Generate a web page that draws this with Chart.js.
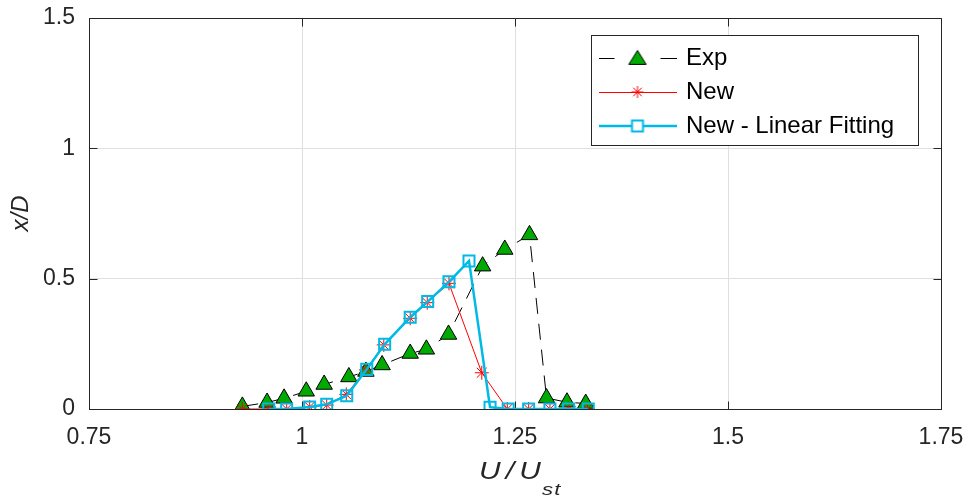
<!DOCTYPE html>
<html>
<head>
<meta charset="utf-8">
<script src="https://cdn.jsdelivr.net/npm/chart.js@4/dist/chart.umd.min.js"></script>
<style>
  html, body { margin: 0; padding: 0; background: #fff; }
  #wrap { width: 970px; height: 496px; }
</style>
</head>
<body>
<div id="wrap"><canvas id="c" width="970" height="496"></canvas></div>
<script>
// Separation length x/D versus reduced velocity U/U_st
const xExp = [0.930, 0.959, 0.979, 1.005, 1.026, 1.055, 1.075, 1.094, 1.127, 1.146, 1.172, 1.212, 1.238, 1.267, 1.287, 1.311, 1.333];
const yExp = [0.010, 0.025, 0.041, 0.068, 0.094, 0.123, 0.144, 0.169, 0.213, 0.229, 0.286, 0.548, 0.612, 0.668, 0.042, 0.026, 0.021];

const xNew = [0.930, 0.961, 0.982, 1.009, 1.029, 1.052, 1.075, 1.096, 1.127, 1.147, 1.1725, 1.211, 1.241, 1.266, 1.291, 1.313, 1.335];
const yNew = [0, 0, 0, 0.008, 0.015, 0.056, 0.150, 0.246, 0.348, 0.408, 0.482, 0.139, 0, 0, 0, 0, 0];

const xFit = [0.961, 0.982, 1.009, 1.029, 1.0525, 1.076, 1.097, 1.127, 1.1475, 1.1725, 1.196, 1.2207, 1.242, 1.266, 1.291, 1.313, 1.336];
const yFit = [0, 0, 0.008, 0.018, 0.051, 0.152, 0.248, 0.352, 0.412, 0.488, 0.568, 0.007, 0, 0, 0, 0, 0];

const seriesNames = ['Exp', 'New', 'New - Linear Fitting'];

const xTickValues = [0.75, 1, 1.25, 1.5, 1.75];
const xTickLabels = ['0.75', '1', '1.25', '1.5', '1.75'];
const yTickValues = [0, 0.5, 1, 1.5];
const yTickLabels = ['0', '0.5', '1', '1.5'];

const FONT = "'Liberation Sans', Arial, Helvetica, sans-serif";
const AXIS = '#262626';
const GRID = '#dfdfdf';
const GREEN = '#00aa00';
const RED = '#ff0000';
const CYAN = 'rgb(0,186,230)';

const pts = (xs, ys) => xs.map((x, i) => ({ x: x, y: ys[i] }));

function lookupLabel(values, labels, v) {
  const i = values.findIndex(t => Math.abs(t - v) < 1e-9);
  return i >= 0 ? labels[i] : '';
}

// small legend samples: line with marker in the middle
function sample(kind) {
  const c = document.createElement('canvas');
  c.width = 78; c.height = 26;
  const g = c.getContext('2d');
  const cy = 13, cx = 39;
  if (kind === 0) {
    g.strokeStyle = '#000'; g.lineWidth = 1;
    g.beginPath(); g.moveTo(0, cy + 0.5); g.lineTo(16, cy + 0.5);
    g.moveTo(62, cy + 0.5); g.lineTo(78, cy + 0.5); g.stroke();
    const r = 10;
    g.beginPath();
    g.moveTo(cx, cy - r * 0.75);
    g.lineTo(cx + r * 0.866, cy + r * 0.75 * 0.85);
    g.lineTo(cx - r * 0.866, cy + r * 0.75 * 0.85);
    g.closePath();
    g.fillStyle = GREEN; g.fill(); g.stroke();
  } else if (kind === 1) {
    g.strokeStyle = RED; g.lineWidth = 1;
    g.beginPath(); g.moveTo(0, cy + 0.5); g.lineTo(78, cy + 0.5); g.stroke();
    const r = 6;
    g.beginPath();
    for (let k = 0; k < 4; k++) {
      const a = k * Math.PI / 4;
      g.moveTo(cx + Math.cos(a) * r, cy + Math.sin(a) * r);
      g.lineTo(cx - Math.cos(a) * r, cy - Math.sin(a) * r);
    }
    g.stroke();
  } else {
    g.strokeStyle = CYAN; g.lineWidth = 2.5;
    g.beginPath(); g.moveTo(0, cy); g.lineTo(78, cy); g.stroke();
    g.lineWidth = 2;
    g.fillStyle = '#fff';
    g.fillRect(cx - 5.5, cy - 5.5, 11, 11);
    g.strokeRect(cx - 5.5, cy - 5.5, 11, 11);
  }
  return c;
}
const legendSamples = [sample(0), sample(1), sample(2)];

// legend frame + inward tick marks + box + x axis title
const frame = {
  id: 'frame',
  afterUpdate(chart) {
    const lg = chart.legend;
    if (!lg) return;
    lg.left = 591; lg.top = 36; lg.right = 918; lg.bottom = 240;
    lg.width = lg.right - lg.left; lg.height = lg.bottom - lg.top;
  },
  beforeDatasetsDraw(chart) {
    const ctx = chart.ctx;
    const a = chart.chartArea;
    const xs = chart.scales.x, ys = chart.scales.y;
    ctx.save();
    ctx.strokeStyle = AXIS;
    ctx.lineWidth = 1;
    const L = Math.round(a.left) + 0.5, R = Math.round(a.right) + 0.5;
    const T = Math.round(a.top) + 0.5, B = Math.round(a.bottom) + 0.5;
    ctx.beginPath();
    ctx.moveTo(L, T); ctx.lineTo(R, T); ctx.lineTo(R, B);
    xs.ticks.forEach(t => {
      const px = Math.round(xs.getPixelForValue(t.value)) + 0.5;
      ctx.moveTo(px, B); ctx.lineTo(px, B - 8);
      ctx.moveTo(px, T); ctx.lineTo(px, T + 8);
    });
    ys.ticks.forEach(t => {
      const py = Math.round(ys.getPixelForValue(t.value)) + 0.5;
      ctx.moveTo(L, py); ctx.lineTo(L + 8, py);
      ctx.moveTo(R, py); ctx.lineTo(R - 8, py);
    });
    ctx.stroke();
    ctx.restore();
  },
  afterDatasetsDraw(chart) {
    const ctx = chart.ctx;
    const lg = chart.legend;
    ctx.save();
    ctx.fillStyle = '#fff';
    ctx.fillRect(591.5, 35.5, 327, 110);
    ctx.strokeStyle = AXIS; ctx.lineWidth = 1;
    ctx.strokeRect(591.5, 35.5, 327, 110);
    ctx.restore();
    if (lg) lg.draw();
  },
  afterDraw(chart) {
    const ctx = chart.ctx;
    const a = chart.chartArea;
    const cx = (a.left + a.right) / 2;
    const sx = 1.3;
    ctx.save();
    ctx.fillStyle = AXIS;
    ctx.textBaseline = 'alphabetic';
    ctx.textAlign = 'left';
    ctx.scale(sx, 1);
    ctx.font = 'italic 23px ' + FONT;
    ctx.letterSpacing = '4px';
    ctx.fillText('U/U', (cx - 36) / sx, 479);
    ctx.font = 'italic 17px ' + FONT;
    ctx.letterSpacing = '1px';
    ctx.fillText('st', (cx + 27) / sx, 495);
    ctx.restore();
  }
};

new Chart(document.getElementById('c'), {
  type: 'line',
  data: {
    datasets: [
      {
        label: seriesNames[0],
        data: pts(xExp, yExp),
        order: 3,
        borderColor: '#000',
        borderWidth: 1,
        borderDash: [16, 10],
        pointStyle: 'triangle',
        pointRadius: 9.5,
        pointBackgroundColor: GREEN,
        pointBorderColor: '#000',
        pointBorderWidth: 1
      },
      {
        label: seriesNames[1],
        data: pts(xNew, yNew),
        order: 2,
        borderColor: RED,
        borderWidth: 1,
        pointStyle: 'star',
        pointRadius: 7,
        pointBackgroundColor: 'rgba(0,0,0,0)',
        pointBorderColor: RED,
        pointBorderWidth: 1
      },
      {
        label: seriesNames[2],
        data: pts(xFit, yFit),
        order: 1,
        borderColor: CYAN,
        borderWidth: 2.5,
        pointStyle: 'rect',
        pointRadius: 7.8,
        pointBackgroundColor: 'rgba(0,0,0,0)',
        pointBorderColor: CYAN,
        pointBorderWidth: 2
      }
    ]
  },
  options: {
    responsive: false,
    animation: false,
    devicePixelRatio: 1,
    events: [],
    tension: 0,
    layout: { autoPadding: false, padding: { left: 0, right: 29, top: 18, bottom: 0 } },
    scales: {
      x: {
        type: 'linear',
        min: 0.75, max: 1.75,
        afterBuildTicks(s) { s.ticks = xTickValues.map(v => ({ value: v })); },
        afterFit(s) {
          s.height = 87;
          s.paddingLeft = 0; s.paddingRight = 0; s.paddingTop = 0; s.paddingBottom = 0;
        },
        ticks: {
          color: AXIS,
          font: { family: FONT, size: 23 },
          padding: 15,
          maxRotation: 0,
          callback: v => lookupLabel(xTickValues, xTickLabels, v)
        },
        grid: { color: GRID, lineWidth: 1, drawTicks: false },
        border: { display: true, color: AXIS, width: 1 }
      },
      y: {
        type: 'linear',
        min: 0, max: 1.5,
        afterBuildTicks(s) { s.ticks = yTickValues.map(v => ({ value: v })); },
        afterFit(s) {
          s.width = 89;
          s.paddingLeft = 0; s.paddingRight = 0; s.paddingTop = 0; s.paddingBottom = 0;
        },
        ticks: {
          color: AXIS,
          font: { family: FONT, size: 23 },
          padding: 14,
          callback: v => lookupLabel(yTickValues, yTickLabels, v)
        },
        grid: { color: GRID, lineWidth: 1, drawTicks: false },
        border: { display: true, color: AXIS, width: 1 },
        title: {
          display: true,
          text: 'x/D',
          color: AXIS,
          font: { family: FONT, size: 24, style: 'italic' },
          padding: { top: 7, bottom: 0 }
        }
      }
    },
    plugins: {
      tooltip: { enabled: false },
      legend: {
        display: true,
        position: 'chartArea',
        align: 'start',
        labels: {
          color: '#000',
          font: { family: FONT, size: 24 },
          padding: 10,
          usePointStyle: true,
          pointStyleWidth: 73,
          generateLabels: () => seriesNames.map((name, i) => ({
            text: name,
            datasetIndex: i,
            pointStyle: legendSamples[i],
            fillStyle: 'rgba(0,0,0,0)',
            strokeStyle: 'rgba(0,0,0,0)',
            lineWidth: 0,
            hidden: false,
            fontColor: '#000'
          }))
        }
      }
    }
  },
  plugins: [frame]
});
</script>
</body>
</html>
